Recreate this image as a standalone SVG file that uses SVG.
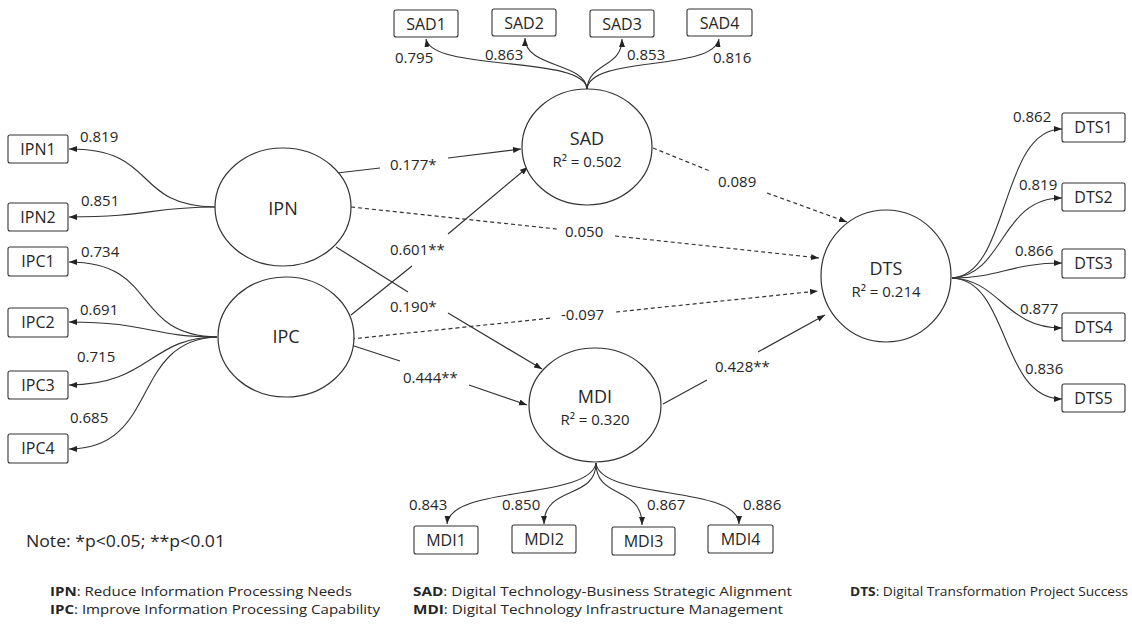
<svg xmlns="http://www.w3.org/2000/svg" width="1132" height="626" viewBox="0 0 1132 626">
<style>
text{font-family:"Open Sans","Liberation Sans",sans-serif;fill:#262626}
.lat{fill:#fff;stroke:#333;stroke-width:1.2}
.ind{fill:#fff;stroke:#333;stroke-width:1.1}
.nm{font-size:18px;text-anchor:middle}
.r2{font-size:15px;text-anchor:middle}
.il{font-size:16px;text-anchor:middle}
.num{font-size:15px}
.leg{font-size:13px}
.ln{fill:none;stroke:#333;stroke-width:1.2;marker-end:url(#ah)}
.ds{stroke-dasharray:4 3}
.ld{fill:none;stroke:#333;stroke-width:1.1;marker-end:url(#ah)}
</style>
<defs>
<marker id="ah" markerWidth="9" markerHeight="7" refX="8" refY="3" orient="auto" markerUnits="userSpaceOnUse">
<path d="M0,0 L8,3 L0,6 z" fill="#222"/>
</marker>
</defs>
<rect width="1132" height="626" fill="#fff"/>

<g id="connectors">
<path class="ln" d="M337,173 L380,168 M448,158 L521,149"/>
<path class="ln" d="M351,315 L412,266 M448,234 L528,167"/>
<path class="ln" d="M336,247 L408,292 M448,313 L542,369"/>
<path class="ln" d="M351,345 L400,361 M469,385 L527,405"/>
<path class="ln" d="M663,404 L707,380 M758,352 L825,315"/>
<path class="ln ds" d="M653,148 L710,171 M767,193 L847,222"/>
<path class="ln ds" d="M351,207 L557,229 M615,236 L819,258"/>
<path class="ln ds" d="M351,339 L552,318 M616,312 L818,291"/>
<path class="ld" d="M587,89 C585,55 432,72 426,39"/>
<path class="ld" d="M587,89 C585,62 525,68 525,38"/>
<path class="ld" d="M587,89 C589,62 622,68 622,39"/>
<path class="ld" d="M587,89 C590,55 713,72 719,39"/>
<path class="ld" d="M215,207 C130,205 160,149 69,149"/>
<path class="ld" d="M215,207 C150,207 150,217 69,217"/>
<path class="ld" d="M217,337 C130,335 160,262 69,262"/>
<path class="ld" d="M217,337 C150,337 150,322 69,322"/>
<path class="ld" d="M217,337 C150,337 150,385 69,385"/>
<path class="ld" d="M217,337 C130,340 160,449 69,449"/>
<path class="ld" d="M952,278 C1010,275 1000,129 1062,129"/>
<path class="ld" d="M952,278 C1005,275 1000,198 1062,198"/>
<path class="ld" d="M952,278 C1000,278 1010,263 1062,263"/>
<path class="ld" d="M952,278 C1000,280 1005,328 1062,328"/>
<path class="ld" d="M952,278 C1010,280 1000,399 1062,399"/>
<path class="ld" d="M596,463 C590,500 450,485 447,524"/>
<path class="ld" d="M596,463 C596,500 544,485 544,524"/>
<path class="ld" d="M596,463 C596,500 642,485 642,525"/>
<path class="ld" d="M596,463 C600,500 739,485 739,524"/>
</g>

<g id="path-labels">
<text class="num" x="390" y="170">0.177*</text>
<text class="num" x="390" y="255">0.601**</text>
<text class="num" x="390" y="312">0.190*</text>
<text class="num" x="403" y="383">0.444**</text>
<text class="num" x="715" y="372">0.428**</text>
<text class="num" x="718" y="187">0.089</text>
<text class="num" x="565" y="237">0.050</text>
<text class="num" x="561" y="320">-0.097</text>
<text class="num" x="395" y="63">0.795</text>
<text class="num" x="485" y="60">0.863</text>
<text class="num" x="627" y="60">0.853</text>
<text class="num" x="713" y="63">0.816</text>
<text class="num" x="80" y="142">0.819</text>
<text class="num" x="81" y="206">0.851</text>
<text class="num" x="81" y="257">0.734</text>
<text class="num" x="80" y="315">0.691</text>
<text class="num" x="77" y="362">0.715</text>
<text class="num" x="70" y="423">0.685</text>
<text class="num" x="1013" y="122">0.862</text>
<text class="num" x="1019" y="190">0.819</text>
<text class="num" x="1015" y="256">0.866</text>
<text class="num" x="1020" y="314">0.877</text>
<text class="num" x="1025" y="374">0.836</text>
<text class="num" x="409" y="510">0.843</text>
<text class="num" x="502" y="510">0.850</text>
<text class="num" x="647" y="510">0.867</text>
<text class="num" x="743" y="510">0.886</text>
</g>

<g id="IPN"><ellipse class="lat" cx="283" cy="207" rx="68" ry="59"/><text class="nm" x="283" y="215">IPN</text></g>
<g id="IPC"><ellipse class="lat" cx="286" cy="337" rx="68" ry="60"/><text class="nm" x="286" y="343">IPC</text></g>
<g id="SAD"><ellipse class="lat" cx="587" cy="147" rx="65" ry="58"/><text class="nm" x="587" y="145">SAD</text><text class="r2" x="587" y="167">R² = 0.502</text></g>
<g id="MDI"><ellipse class="lat" cx="595" cy="405" rx="66" ry="57"/><text class="nm" x="595" y="403">MDI</text><text class="r2" x="595" y="425">R² = 0.320</text></g>
<g id="DTS"><ellipse class="lat" cx="886" cy="276" rx="65" ry="66"/><text class="nm" x="886" y="275">DTS</text><text class="r2" x="886" y="297">R² = 0.214</text></g>

<g id="SAD1"><rect class="ind" x="394" y="10" width="64" height="27" rx="2"/><text class="il" x="426" y="29.5">SAD1</text></g>
<g id="SAD2"><rect class="ind" x="492" y="9" width="64" height="27" rx="2"/><text class="il" x="524" y="28.5">SAD2</text></g>
<g id="SAD3"><rect class="ind" x="590" y="10" width="64" height="27" rx="2"/><text class="il" x="622" y="29.5">SAD3</text></g>
<g id="SAD4"><rect class="ind" x="687" y="9" width="65" height="27" rx="2"/><text class="il" x="719.5" y="28.5">SAD4</text></g>

<g id="IPN1"><rect class="ind" x="8" y="135" width="60" height="28" rx="2"/><text class="il" x="38" y="154.7">IPN1</text></g>
<g id="IPN2"><rect class="ind" x="8" y="203" width="60" height="28" rx="2"/><text class="il" x="38" y="222.7">IPN2</text></g>
<g id="IPC1"><rect class="ind" x="8" y="247" width="60" height="29" rx="2"/><text class="il" x="38" y="267">IPC1</text></g>
<g id="IPC2"><rect class="ind" x="8" y="308" width="60" height="29" rx="2"/><text class="il" x="38" y="328">IPC2</text></g>
<g id="IPC3"><rect class="ind" x="8" y="371" width="60" height="28" rx="2"/><text class="il" x="38" y="390.7">IPC3</text></g>
<g id="IPC4"><rect class="ind" x="8" y="434" width="60" height="29" rx="2"/><text class="il" x="38" y="454">IPC4</text></g>

<g id="DTS1"><rect class="ind" x="1062" y="113" width="63" height="29" rx="2"/><text class="il" x="1093.5" y="133">DTS1</text></g>
<g id="DTS2"><rect class="ind" x="1062" y="183" width="63" height="28" rx="2"/><text class="il" x="1093.5" y="202.7">DTS2</text></g>
<g id="DTS3"><rect class="ind" x="1062" y="249" width="63" height="29" rx="2"/><text class="il" x="1093.5" y="269">DTS3</text></g>
<g id="DTS4"><rect class="ind" x="1062" y="313" width="63" height="28" rx="2"/><text class="il" x="1093.5" y="332.7">DTS4</text></g>
<g id="DTS5"><rect class="ind" x="1062" y="384" width="63" height="28" rx="2"/><text class="il" x="1093.5" y="403.7">DTS5</text></g>

<g id="MDI1"><rect class="ind" x="414" y="526" width="64" height="28" rx="2"/><text class="il" x="446" y="545.7">MDI1</text></g>
<g id="MDI2"><rect class="ind" x="512" y="525" width="64" height="28" rx="2"/><text class="il" x="544" y="544.7">MDI2</text></g>
<g id="MDI3"><rect class="ind" x="612" y="527" width="63" height="28" rx="2"/><text class="il" x="643.5" y="546.7">MDI3</text></g>
<g id="MDI4"><rect class="ind" x="708" y="525" width="65" height="28" rx="2"/><text class="il" x="740.5" y="544.7">MDI4</text></g>

<g id="note"><text x="26" y="547" font-size="16" textLength="199" lengthAdjust="spacingAndGlyphs">Note: *p&lt;0.05; **p&lt;0.01</text></g>

<g id="legend">
<text class="leg" x="50" y="596" textLength="302" lengthAdjust="spacingAndGlyphs"><tspan font-weight="bold">IPN</tspan>: Reduce Information Processing Needs</text>
<text class="leg" x="50" y="614" textLength="330" lengthAdjust="spacingAndGlyphs"><tspan font-weight="bold">IPC</tspan>: Improve Information Processing Capability</text>
<text class="leg" x="413" y="596" textLength="379" lengthAdjust="spacingAndGlyphs"><tspan font-weight="bold">SAD</tspan>: Digital Technology-Business Strategic Alignment</text>
<text class="leg" x="413" y="614" textLength="370" lengthAdjust="spacingAndGlyphs"><tspan font-weight="bold">MDI</tspan>: Digital Technology Infrastructure Management</text>
<text class="leg" x="850" y="596" textLength="278" lengthAdjust="spacingAndGlyphs"><tspan font-weight="bold">DTS</tspan>: Digital Transformation Project Success</text>
</g>
</svg>
